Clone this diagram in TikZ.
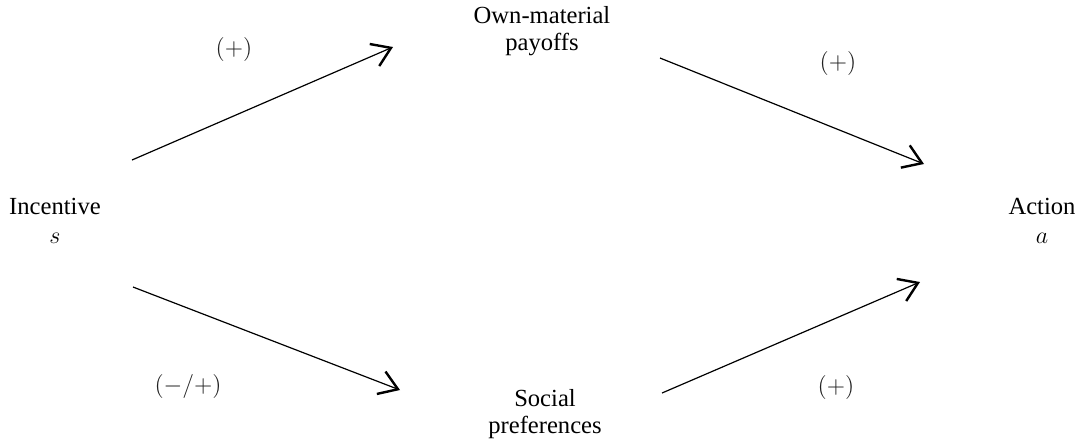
\documentclass[tikz,border=0pt]{standalone}
\usepackage{fontspec}
\setmainfont{Liberation Serif}
\usetikzlibrary{arrows.meta}
\tikzset{
  lbl/.style={font=\fontsize{12.3}{13.6}\selectfont, align=center, inner sep=0pt},
  sgn/.style={font=\fontsize{12}{13}\selectfont, text=black!88, inner sep=0pt},
  conn/.style={line width=0.6pt, -{Straight Barb[length=9pt, width=12pt, line width=1.2pt]}}
}
\begin{document}
\begin{tikzpicture}[x=0.5pt, y=-0.5pt]
\useasboundingbox (0,0) rectangle (1080,441);
\node[lbl] (inc) at (55,221) {Incentive\\[1pt]$s$};
\node[lbl] (act) at (1042,221) {Action\\[1pt]$a$};
\node[lbl] (own) at (542,31) {Own-material\\payoffs};
\node[lbl] (soc) at (545,414) {Social\\preferences};
\coordinate (a1s) at (132,160);
\coordinate (a1e) at (393,47);
\coordinate (a2s) at (660,58);
\coordinate (a2e) at (924,164);
\coordinate (a3s) at (133,287);
\coordinate (a3e) at (400,390);
\coordinate (a4s) at (662,393);
\coordinate (a4e) at (920,282);
\draw[conn] (a1s) -- (a1e);
\draw[conn] (a2s) -- (a2e);
\draw[conn] (a3s) -- (a3e);
\draw[conn] (a4s) -- (a4e);
\node[sgn] (l1) at (234,49) {$(+)$};
\node[sgn] (l2) at (838,63) {$(+)$};
\node[sgn] (l3) at (188,386) {$(-/+)$};
\node[sgn] (l4) at (836,387) {$(+)$};
\end{tikzpicture}
\end{document}
